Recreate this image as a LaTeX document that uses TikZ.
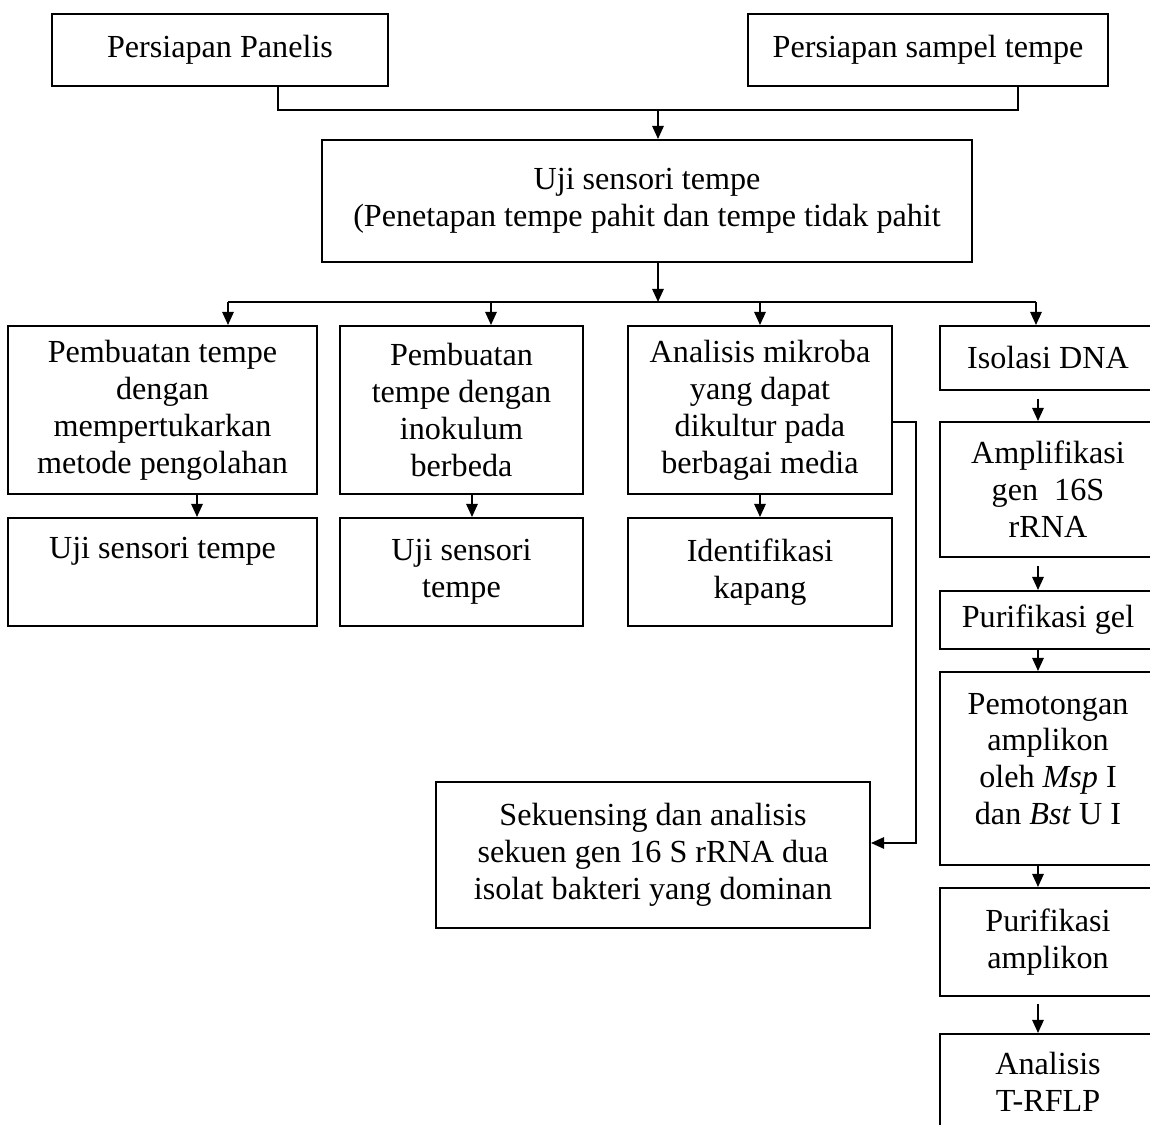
\documentclass[tikz,border=0pt]{standalone}
\usepackage{fontspec}
\setmainfont{Liberation Serif}
\usepackage{tikz}
\usetikzlibrary{arrows.meta}

\begin{document}
\begin{tikzpicture}[x=0.02cm, y=-0.02cm, line join=miter,
  box/.style={draw, line width=1.1pt, align=center, inner sep=0pt,
    font=\fontsize{18.3}{21}\selectfont},
  arr/.style={line width=1.1pt, -{Triangle[length=7.5pt,width=6.5pt]}},
  line/.style={line width=1.1pt}]

\useasboundingbox (0,0) rectangle (1150,1125);

% atas
\node[box, minimum width=336*0.02cm, minimum height=72*0.02cm] (panelis) at (220,50) {Persiapan Panelis};
\node[box, minimum width=360*0.02cm, minimum height=72*0.02cm] (sampel) at (928,50) {Persiapan sampel tempe};
\node[box, minimum width=650*0.02cm, minimum height=122*0.02cm] (uji) at (647,201)
  {Uji sensori tempe\\(Penetapan tempe pahit dan tempe tidak pahit};

\coordinate (jp) at (278,110);
\coordinate (js) at (1018,110);
\coordinate (jm) at (658,110);
\draw[line] (panelis.south -| jp) -- (jp) -- (js) -- (sampel.south -| js);
\draw[arr] (jm) -- (uji.north -| jm);

% baris tengah
\node[box, minimum width=309*0.02cm, minimum height=168*0.02cm] (buat1) at (162.5,410)
  {Pembuatan tempe\\dengan\\mempertukarkan\\metode pengolahan};
\node[box, minimum width=243*0.02cm, minimum height=168*0.02cm] (buat2) at (461.5,410)
  {Pembuatan\\tempe dengan\\inokulum\\berbeda};
\node[box, minimum width=264*0.02cm, minimum height=168*0.02cm] (mikroba) at (760,410)
  {Analisis mikroba\\yang dapat\\dikultur pada\\berbagai media};
\node[box, minimum width=216*0.02cm, minimum height=64*0.02cm] (isolasi) at (1048,358) {Isolasi DNA};

\node[box, minimum width=309*0.02cm, minimum height=108*0.02cm] (uji1) at (162.5,572)
  {Uji sensori tempe\\ \strut};
\node[box, minimum width=243*0.02cm, minimum height=108*0.02cm] (uji2) at (461.5,572)
  {Uji sensori\\tempe};
\node[box, minimum width=264*0.02cm, minimum height=108*0.02cm] (kapang) at (760,572)
  {Identifikasi\\kapang};

\coordinate (d0) at (658,302);
\coordinate (d1) at (228,302);
\coordinate (d2) at (491,302);
\coordinate (d3) at (760,302);
\coordinate (d4) at (1036,302);
\draw[arr] (uji.south -| d0) -- (d0);
\draw[line] (d1) -- (d4);
\draw[arr] (d1) -- (buat1.north -| d1);
\draw[arr] (d2) -- (buat2.north -| d2);
\draw[arr] (d3) -- (mikroba.north -| d3);
\draw[arr] (d4) -- (isolasi.north -| d4);

\draw[arr] ([xshift=34.5*0.02cm]buat1.south) -- ([xshift=34.5*0.02cm]uji1.north);
\draw[arr] ([xshift=10.5*0.02cm]buat2.south) -- ([xshift=10.5*0.02cm]uji2.north);
\draw[arr] (mikroba.south) -- (kapang.north);

% kolom kanan
\node[box, minimum width=216*0.02cm, minimum height=135*0.02cm] (amplif) at (1048,489.5)
  {Amplifikasi\\gen~~16S\\rRNA};
\node[box, minimum width=216*0.02cm, minimum height=58*0.02cm] (gel) at (1048,620) {Purifikasi gel};
\node[box, minimum width=216*0.02cm, minimum height=193*0.02cm] (potong) at (1048,768.5)
  {Pemotongan\\amplikon\\oleh \textit{Msp} I\\dan \textit{Bst} U I\\[-10pt]\mbox{}};
\node[box, minimum width=216*0.02cm, minimum height=108*0.02cm] (puramp) at (1048,942)
  {Purifikasi\\amplikon};
\node[box, minimum width=216*0.02cm, minimum height=96*0.02cm] (trflp) at (1048,1082)
  {Analisis\\T-RFLP};

\draw[arr, shorten <=8*0.02cm] ([xshift=-10*0.02cm]isolasi.south) -- ([xshift=-10*0.02cm]amplif.north);
\draw[arr, shorten <=8*0.02cm] ([xshift=-10*0.02cm]amplif.south) -- ([xshift=-10*0.02cm]gel.north);
\draw[arr] ([xshift=-10*0.02cm]gel.south) -- ([xshift=-10*0.02cm]potong.north);
\draw[arr] ([xshift=-10*0.02cm]potong.south) -- ([xshift=-10*0.02cm]puramp.north);
\draw[arr, shorten <=7*0.02cm] ([xshift=-10*0.02cm]puramp.south) -- ([xshift=-10*0.02cm]trflp.north);

% sekuensing
\node[box, minimum width=434*0.02cm, minimum height=146*0.02cm] (sekuen) at (653,855)
  {Sekuensing dan analisis\\sekuen gen 16 S rRNA dua\\isolat bakteri yang dominan};

\coordinate (k1) at (916,422);
\coordinate (k2) at (916,843);
\draw[arr] (k1 -| mikroba.east) -- (k1) -- (k2) -- (k2 -| sekuen.east);

\end{tikzpicture}
\end{document}
